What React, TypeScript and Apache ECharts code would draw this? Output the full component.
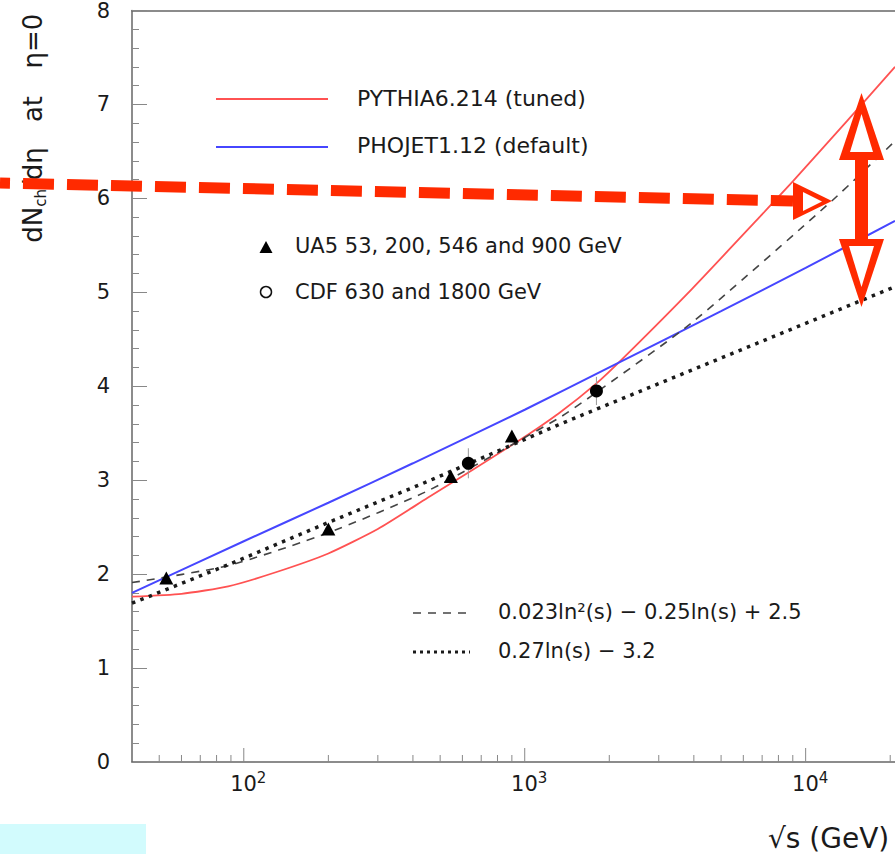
import React, { useEffect, useRef } from "react";
import * as echarts from "echarts";

// ---- data ----
const xMin = 40;
const xMax = 20800;
const xMajorTicks = [100, 1000, 10000];
const xMinorTicks = [50, 60, 70, 80, 90, 200, 300, 400, 500, 600, 700, 800, 900, 2000, 3000, 4000, 5000, 6000, 7000, 8000, 9000, 20000];
const xLabelPowers = [2, 3, 4];

const pythiaX = [40, 60, 88, 130, 200, 300, 450, 930, 1320, 1800, 2260, 3950, 6850, 9000, 14000, 20800];
const pythiaY = [1.76, 1.79, 1.87, 2.02, 2.22, 2.48, 2.81, 3.4, 3.71, 4.03, 4.31, 5.04, 5.8, 6.18, 6.82, 7.4];

const phojetX = [40, 100, 200, 400, 1000, 2000, 5000, 10000, 20800];
const phojetY = [1.8, 2.35, 2.76, 3.18, 3.75, 4.2, 4.8, 5.26, 5.76];

const quadX = [40, 88, 200, 454, 1320, 1734, 3950, 12470, 20800];
const quadY = [1.91, 2.09, 2.44, 2.89, 3.66, 3.9, 4.68, 5.98, 6.61];

const linX = [40, 88, 200, 454, 1320, 5000, 20800];
const linY = [1.69, 2.1, 2.55, 2.99, 3.59, 4.3, 5.06];

const ua5X = [53, 200, 546, 900];
const ua5Y = [1.96, 2.48, 3.04, 3.47];

const cdfX = [630, 1800];
const cdfY = [3.18, 3.95];
const cdfErr = [0.16, 0.15];

const legendTexts = [
  "PYTHIA6.214 (tuned)",
  "PHOJET1.12 (default)",
  "UA5 53, 200, 546 and 900 GeV",
  "CDF 630 and 1800 GeV",
  "0.023ln\u00b2(s) \u2212 0.25ln(s) + 2.5",
  "0.27ln(s) \u2212 3.2",
];

const FONT = '"DejaVu Sans", sans-serif';
const RED = "#FF5252";
const BLUE = "#4646FF";
const ANNO = "#FF2A00";
const TXT = "#1a1a1a";

const zip = (xs: number[], ys: number[]) => xs.map((x, i) => [x, ys[i]]);

export default function App() {
  const ref = useRef<HTMLDivElement>(null);

  useEffect(() => {
    if (!ref.current) return;
    const chart = echarts.init(ref.current, undefined, { renderer: "svg" });

    const tickData = [
      ...xMajorTicks.map((v) => [v, 1]),
      ...xMinorTicks.map((v) => [v, 0]),
    ];

    const option: any = {
      animation: false,
      backgroundColor: "#ffffff",
      grid: { left: 132, right: 0, top: 10, bottom: 92, show: false },
      xAxis: [
        {
          type: "log",
          logBase: 10,
          min: xMin,
          max: xMax,
          position: "bottom",
          axisLine: { show: true, lineStyle: { color: "#666", width: 1.5 } },
          axisTick: { show: false },
          minorTick: { show: false },
          splitLine: { show: false },
          axisLabel: {
            show: true,
            margin: 8,
            showMinLabel: false,
            showMaxLabel: false,
            formatter: (v: number) => {
              const p = Math.round(Math.log10(v));
              if (xLabelPowers.includes(p) && Math.abs(v - Math.pow(10, p)) / v < 1e-6) {
                return `{sp| }{b|10}{s|${p}}`;
              }
              return "";
            },
            rich: {
              sp: { width: 9, fontSize: 15 },
              b: { fontSize: 21, fontFamily: FONT, color: TXT, lineHeight: 24, verticalAlign: "bottom" },
              s: { fontSize: 15, fontFamily: FONT, color: TXT, lineHeight: 15, verticalAlign: "top" },
            },
          },
        },
        {
          type: "log",
          logBase: 10,
          min: xMin,
          max: xMax,
          position: "top",
          axisLine: { show: true, lineStyle: { color: "#666", width: 1.5 } },
          axisTick: { show: false },
          axisLabel: { show: false },
          splitLine: { show: false },
        },
      ],
      yAxis: {
        type: "value",
        min: 0,
        max: 8,
        interval: 1,
        axisLine: { show: true, lineStyle: { color: "#666", width: 1.5 } },
        axisTick: { show: true, inside: true, length: 15, lineStyle: { color: "#888", width: 1 } },
        minorTick: { show: true, splitNumber: 5, length: 7, lineStyle: { color: "#888", width: 1 } },
        splitLine: { show: false },
        minorSplitLine: { show: false },
        axisLabel: { margin: 22, fontSize: 21, fontFamily: FONT, color: TXT },
      },
      series: [
        {
          type: "custom",
          name: "xticks",
          coordinateSystem: "cartesian2d",
          silent: true,
          encode: { x: 0, y: 1 },
          data: tickData,
          renderItem: (params: any, api: any) => {
            const v = api.value(0);
            const major = api.value(1);
            const p = api.coord([v, 0]);
            const len = major ? 14 : 7;
            return {
              type: "line",
              shape: { x1: p[0], y1: p[1], x2: p[0], y2: p[1] - len },
              style: { stroke: "#888", lineWidth: 1 },
            };
          },
          z: 3,
        },
        {
          type: "line",
          name: "PYTHIA",
          data: zip(pythiaX, pythiaY),
          showSymbol: false,
          smooth: 0.2,
          lineStyle: { color: RED, width: 1.8 },
          z: 4,
        },
        {
          type: "line",
          name: "PHOJET",
          data: zip(phojetX, phojetY),
          showSymbol: false,
          smooth: 0.2,
          lineStyle: { color: BLUE, width: 2 },
          z: 4,
        },
        {
          type: "line",
          name: "quad",
          data: zip(quadX, quadY),
          showSymbol: false,
          smooth: 0.2,
          lineStyle: { color: "#444", width: 1.6, type: [8, 7] },
          z: 4,
        },
        {
          type: "line",
          name: "lin",
          data: zip(linX, linY),
          showSymbol: false,
          lineStyle: { color: "#1a1a1a", width: 3.5, type: [3.5, 5.5], cap: "butt" },
          z: 4,
        },
        {
          type: "custom",
          name: "cdfErr",
          coordinateSystem: "cartesian2d",
          silent: true,
          encode: { x: 0, y: 1 },
          data: cdfX.map((x, i) => [x, cdfY[i], cdfErr[i]]),
          renderItem: (params: any, api: any) => {
            const x = api.value(0);
            const y = api.value(1);
            const e = api.value(2);
            const a = api.coord([x, y - e]);
            const b = api.coord([x, y + e]);
            return {
              type: "line",
              shape: { x1: a[0], y1: a[1], x2: b[0], y2: b[1] },
              style: { stroke: "#999", lineWidth: 1 },
            };
          },
          z: 5,
        },
        {
          type: "scatter",
          name: "UA5",
          data: zip(ua5X, ua5Y),
          symbol: "triangle",
          symbolSize: [14, 13],
          itemStyle: { color: "#000", opacity: 1 },
          z: 6,
        },
        {
          type: "scatter",
          name: "CDF",
          data: zip(cdfX, cdfY),
          symbol: "circle",
          symbolSize: 13,
          itemStyle: { color: "#000", opacity: 1 },
          z: 6,
        },
      ],
      graphic: [
        // y-axis title (rotated pieces)
        {
          type: "text",
          x: 33,
          y: 195,
          rotation: Math.PI / 2,
          z: 50,
          style: {
            text: "{a|dN}{c|ch}{a|/d\u03b7}",
            align: "center",
            verticalAlign: "middle",
            fill: TXT,
            rich: {
              a: { fontSize: 26, fontFamily: FONT, fill: TXT, lineHeight: 30 },
              c: { fontSize: 15, fontFamily: FONT, fill: TXT, lineHeight: 15, verticalAlign: "bottom" },
            },
          },
        },
        {
          type: "text",
          x: 33,
          y: 109,
          rotation: Math.PI / 2,
          z: 50,
          style: { text: "at", fontSize: 26, fontFamily: FONT, fill: TXT, align: "center", verticalAlign: "middle" },
        },
        {
          type: "text",
          x: 33,
          y: 41,
          rotation: Math.PI / 2,
          z: 50,
          style: { text: "\u03b7=0", fontSize: 26, fontFamily: FONT, fill: TXT, align: "center", verticalAlign: "middle" },
        },
        // x-axis title
        {
          type: "text",
          x: 768,
          y: 838,
          z: 50,
          style: { text: "\u221as (GeV)", fontSize: 28, fontFamily: FONT, fill: TXT, align: "left", verticalAlign: "middle" },
        },
        // legend
        { type: "line", z: 50, shape: { x1: 216, y1: 99, x2: 328, y2: 99 }, style: { stroke: RED, lineWidth: 2 } },
        { type: "text", x: 357, y: 98, z: 50, style: { text: legendTexts[0], fontSize: 22, fontFamily: FONT, fill: TXT, verticalAlign: "middle" } },
        { type: "line", z: 50, shape: { x1: 216, y1: 147, x2: 328, y2: 147 }, style: { stroke: BLUE, lineWidth: 2 } },
        { type: "text", x: 357, y: 145, z: 50, style: { text: legendTexts[1], fontSize: 22, fontFamily: FONT, fill: TXT, verticalAlign: "middle" } },
        { type: "polygon", z: 50, shape: { points: [[259.5, 253], [272.5, 253], [266, 241]] }, style: { fill: "#000" } },
        { type: "text", x: 295, y: 246, z: 50, style: { text: legendTexts[2], fontSize: 21, fontFamily: FONT, fill: TXT, verticalAlign: "middle" } },
        { type: "circle", z: 50, shape: { cx: 266, cy: 292, r: 5.5 }, style: { fill: "#fff", stroke: "#111", lineWidth: 1.5 } },
        { type: "text", x: 295, y: 292, z: 50, style: { text: legendTexts[3], fontSize: 21, fontFamily: FONT, fill: TXT, verticalAlign: "middle" } },
        { type: "line", z: 50, shape: { x1: 413, y1: 613, x2: 470, y2: 613 }, style: { stroke: "#444", lineWidth: 1.5, lineDash: [8, 7] } },
        { type: "text", x: 498, y: 612, z: 50, style: { text: legendTexts[4], fontSize: 21, fontFamily: FONT, fill: TXT, verticalAlign: "middle" } },
        { type: "line", z: 50, shape: { x1: 413, y1: 652, x2: 470, y2: 652 }, style: { stroke: "#1a1a1a", lineWidth: 3, lineDash: [3, 4] } },
        { type: "text", x: 498, y: 651, z: 50, style: { text: legendTexts[5], fontSize: 21, fontFamily: FONT, fill: TXT, verticalAlign: "middle" } },
        // cyan box
        { type: "rect", z: 100, shape: { x: 0, y: 824, width: 146, height: 30 }, style: { fill: "#D2FBFD" } },
        // red dashed arrow
        {
          type: "line",
          z: 100,
          shape: { x1: 0, y1: 183, x2: 793, y2: 201 },
          style: { stroke: ANNO, lineWidth: 11, lineDash: [31, 13], lineDashOffset: 21 },
        },
        { type: "polygon", z: 101, shape: { points: [[793, 182], [793, 220], [832, 201]] }, style: { fill: ANNO } },
        { type: "polygon", z: 102, shape: { points: [[803, 192], [803, 211], [822, 201.5]] }, style: { fill: "#fff" } },
        // red double arrow
        { type: "rect", z: 100, shape: { x: 855, y: 155, width: 13, height: 86 }, style: { fill: ANNO } },
        { type: "polygon", z: 101, shape: { points: [[839, 160], [884, 160], [861.5, 93]] }, style: { fill: ANNO } },
        { type: "polygon", z: 102, shape: { points: [[850, 152], [873, 152], [861.5, 114]] }, style: { fill: "#fff" } },
        { type: "polygon", z: 101, shape: { points: [[839, 239], [884, 239], [861.5, 307]] }, style: { fill: ANNO } },
        { type: "polygon", z: 102, shape: { points: [[849, 246], [874, 246], [861.5, 287]] }, style: { fill: "#fff" } },
      ],
    };

    chart.setOption(option);
    return () => chart.dispose();
  }, []);

  return (
    <div
      ref={ref}
      style={{ position: "absolute", left: 0, top: 0, width: 895, height: 854, background: "#fff" }}
    />
  );
}
